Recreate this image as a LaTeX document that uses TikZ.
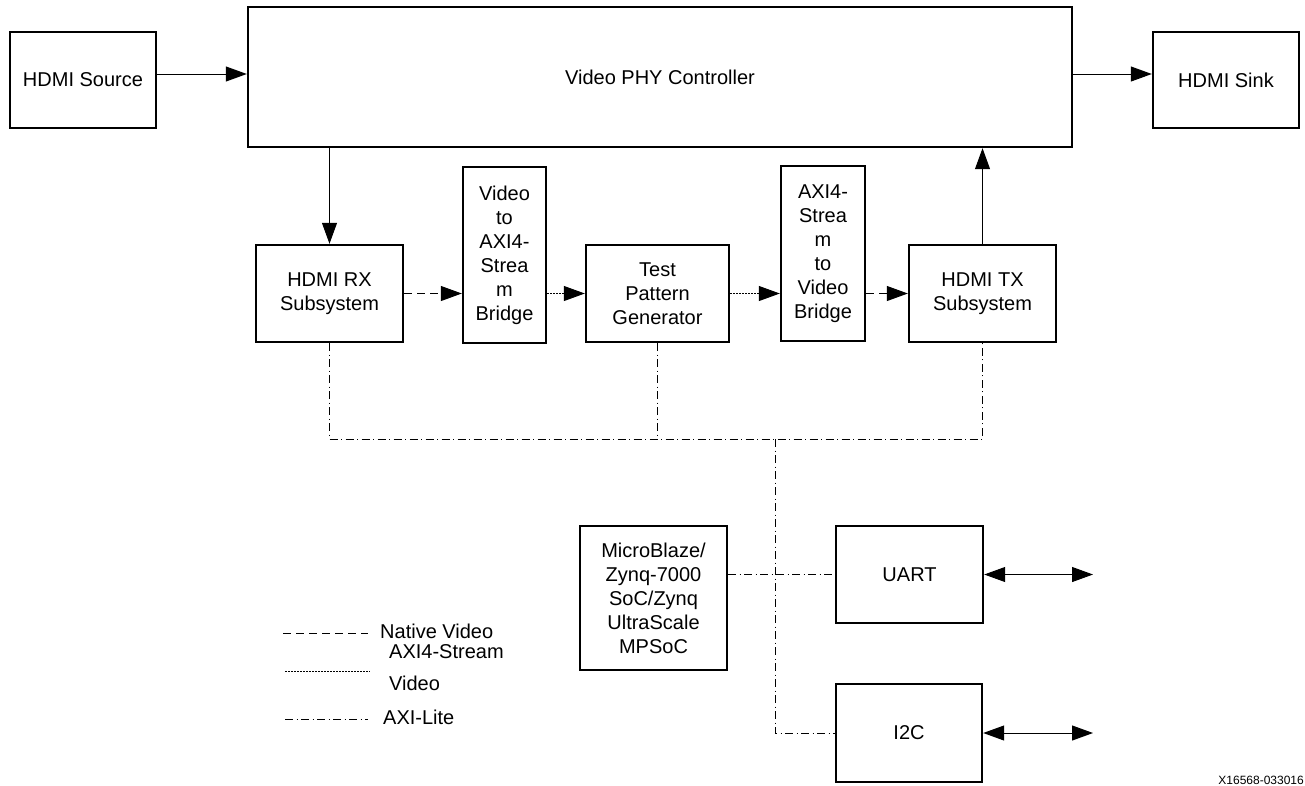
\documentclass[tikz,border=0pt]{standalone}
\usepackage{fontspec}
\setmainfont{Liberation Sans}
\usetikzlibrary{arrows.meta}
\begin{document}
\begin{tikzpicture}[x=1pt,y=-1pt,
  box/.style={draw, line width=2.4pt, align=center, inner sep=0pt, font=\fontsize{20}{24}\selectfont},
  txt/.style={inner sep=0pt, font=\fontsize{20}{24}\selectfont},
  arr/.style={line width=1pt, -{Triangle[length=21pt,width=15pt]}},
  darr/.style={line width=1pt, {Triangle[length=21pt,width=15pt]}-{Triangle[length=21pt,width=15pt]}},
  nv/.style={line width=1pt, dash pattern=on 8pt off 5pt},
  sv/.style={line width=1pt, dash pattern=on 1.5pt off 1.5pt},
  al/.style={line width=1pt, dash pattern=on 8pt off 3.5pt on 1pt off 3.5pt}]
\useasboundingbox (0,0) rectangle (1305,785);

% blocks
\node[box, minimum width=824pt, minimum height=140pt] (phy) at (660,77) {Video PHY Controller};
\node[box, minimum width=146pt, minimum height=96pt] (src) at (83,80) {HDMI Source};
\node[box, minimum width=146pt, minimum height=96pt] (sink) at (1226,80) {HDMI Sink};
\node[box, minimum width=147pt, minimum height=97pt] (rx) at (329.5,293.5) {HDMI RX\\Subsystem};
\node[box, minimum width=83pt, minimum height=176pt] (v2a) at (504.5,255) {Video\\to\\AXI4-\\Strea\\m\\Bridge};
\node[box, minimum width=143pt, minimum height=97pt] (tpg) at (657.5,293.5) {Test\\Pattern\\Generator};
\node[box, minimum width=84pt, minimum height=175pt] (a2v) at (823,253.5) {AXI4-\\Strea\\m\\to\\Video\\Bridge};
\node[box, minimum width=147pt, minimum height=97pt] (tx) at (982.5,293.5) {HDMI TX\\Subsystem};
\node[box, minimum width=147pt, minimum height=144pt] (mb) at (653.5,598) {MicroBlaze/\\Zynq-7000\\SoC/Zynq\\UltraScale\\MPSoC};
\node[box, minimum width=147pt, minimum height=97pt] (uart) at (909.5,574.5) {UART};
\node[box, minimum width=146pt, minimum height=98pt] (i2c) at (909,733) {I2C};

% solid connectors
\draw[arr] (src.east |- 0,74) -- (phy.west |- 0,74);
\draw[arr] (phy.east |- 0,74) -- (sink.west |- 0,74);
\draw[arr] (phy.south -| rx.north) -- (rx.north);
\draw[arr] (tx.north) -- (tx.north |- phy.south);

% video path
\draw[arr, nv] (rx.east) -- (rx.east -| v2a.west);
\draw[arr, sv] (v2a.east |- tpg.west) -- (tpg.west);
\draw[arr, sv] (tpg.east) -- (tpg.east -| a2v.west);
\draw[arr, nv] (a2v.east |- tx.west) -- (tx.west);

% AXI-Lite bus
\coordinate (bus) at (775,439);
\draw[al] (rx.south) -- (rx.south |- bus) -- (tx.south |- bus) -- (tx.south);
\draw[al] (tpg.south) -- (tpg.south |- bus);
\draw[al] (bus) -- (bus |- i2c.west) -- (i2c.west);
\draw[al] (mb.east |- uart.west) -- (uart.west);

% external bidirectional
\coordinate (ext) at (1093,0);
\draw[darr] (uart.east) -- (uart.east -| ext);
\draw[darr] (i2c.east) -- (i2c.east -| ext);

% legend
\coordinate (l1a) at (283,633); \coordinate (l1b) at (368,633);
\coordinate (l2a) at (285,671); \coordinate (l2b) at (370,671);
\coordinate (l3a) at (285,719); \coordinate (l3b) at (368,719);
\draw[nv] (l1a) -- (l1b);
\draw[sv] (l2a) -- (l2b);
\draw[al] (l3a) -- (l3b);
\node[txt, anchor=west] (lnv) at (380,631) {Native Video};
\node[txt, anchor=west, align=left, font=\fontsize{20}{32}\selectfont] (lsv) at (389,668) {AXI4-Stream\\Video};
\node[txt, anchor=west] (lal) at (383,717) {AXI-Lite};

\node[inner sep=0pt, anchor=east, font=\fontsize{12}{14}\selectfont] (id) at (1304,780) {X16568-033016};
\end{tikzpicture}
\end{document}
